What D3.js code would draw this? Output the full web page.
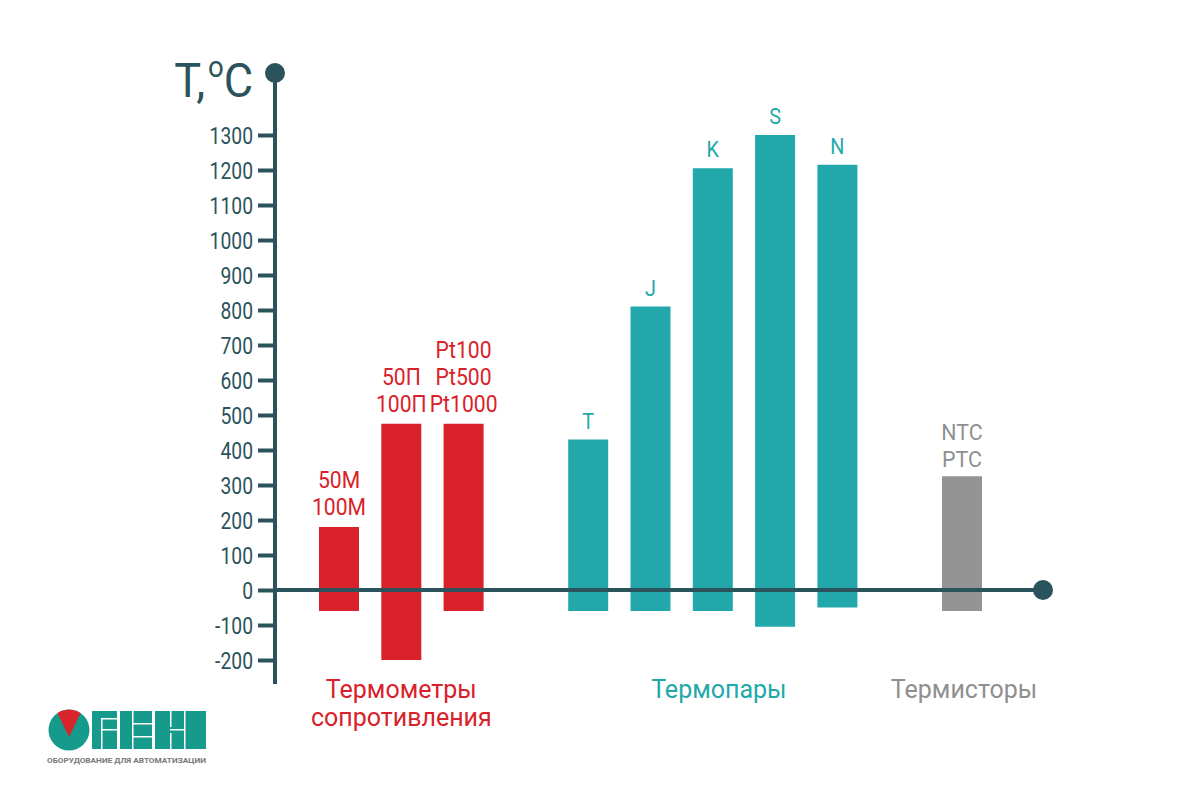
<!DOCTYPE html>
<html>
<head>
<meta charset="utf-8">
<script src="https://cdn.jsdelivr.net/npm/d3@7"></script>
<style>
  html, body { margin: 0; padding: 0; background: #ffffff; }
  svg { display: block; }
  text { font-family: Roboto, "Noto Sans", sans-serif; }
</style>
</head>
<body>
<svg id="chart" width="1200" height="801"></svg>
<script>
// ---------- data ----------
const slots = ["50M/100M", "50П/100П", "Pt100/Pt500/Pt1000", "gap1", "T", "J", "K", "S", "N", "gap2", "NTC/PTC"];
const sensors = ["50M/100M", "50П/100П", "Pt100/Pt500/Pt1000", "T", "J", "K", "S", "N", "NTC/PTC"];
const sensorLabels = [["50M", "100M"], ["50П", "100П"], ["Pt100", "Pt500", "Pt1000"], ["T"], ["J"], ["K"], ["S"], ["N"], ["NTC", "PTC"]];
const sensorGroups = ["rtd", "rtd", "rtd", "tc", "tc", "tc", "tc", "tc", "th"];
const maxTemp = [180, 475, 475, 430, 810, 1205, 1300, 1215, 325];
const minTemp = [-60, -200, -60, -60, -60, -60, -105, -50, -60];
const tickValues = [-200, -100, 0, 100, 200, 300, 400, 500, 600, 700, 800, 900, 1000, 1100, 1200, 1300];
const groupKeys = ["rtd", "tc", "th"];
const groupNames = [["Термометры", "сопротивления"], ["Термопары"], ["Термисторы"]];
const axisTitle = ["T,", "o", "C"];
const logoCaption = "ОБОРУДОВАНИЕ ДЛЯ АВТОМАТИЗАЦИИ";

// ---------- styles ----------
const colors = { rtd: "#d9212a", tc: "#22a8aa", th: "#949494" };
const labelColors = { rtd: "#d9212a", tc: "#22a8aa", th: "#8f8f8f" };
const axisColor = "#2b535b";

const svg = d3.select("#chart");

const y = d3.scaleLinear().domain([-200, 1300]).range([660, 135]);
const x = d3.scaleBand().domain(slots).range([319, 982]).paddingInner(0.358).paddingOuter(0);

function sText(parent, px, py, sx) {
  return parent.append("g")
    .attr("transform", `translate(${px},${py}) scale(${sx},1)`)
    .append("text");
}

// ---------- bars ----------
const barG = svg.append("g");
sensors.forEach((s, i) => {
  const top = y(maxTemp[i]);
  const bot = y(minTemp[i]);
  barG.append("rect")
    .attr("x", x(s))
    .attr("y", top)
    .attr("width", x.bandwidth())
    .attr("height", bot - top)
    .attr("fill", colors[sensorGroups[i]]);
  const lines = sensorLabels[i];
  const grp = sensorGroups[i];
  const lh = 27;
  const fs = grp === "tc" ? 22 : 23;
  const gap = grp === "tc" ? 11 : (grp === "rtd" ? 12 : 9);
  const sx = grp === "th" ? 0.93 : (grp === "rtd" ? 0.92 : 0.9);
  lines.forEach((ln, k) => {
    const baseline = top - gap - (lines.length - 1 - k) * lh;
    sText(svg, x(s) + x.bandwidth() / 2, baseline, sx)
      .attr("text-anchor", "middle")
      .attr("font-size", fs)
      .attr("font-weight", 400)
      .attr("fill", labelColors[grp])
      .text(ln);
  });
});

// ---------- y axis ----------
const axisG = svg.append("g").attr("transform", "translate(275,0)");
axisG.call(d3.axisLeft(y).tickValues(tickValues).tickSize(17).tickPadding(5).tickFormat(d => d));
axisG.select(".domain").remove();
axisG.selectAll(".tick line").attr("stroke", axisColor).attr("stroke-width", 4);
axisG.selectAll(".tick text").remove();
axisG.selectAll(".tick").each(function (d) {
  const g = d3.select(this);
  g.append("g").attr("transform", `translate(-22,0) scale(0.84,1)`)
    .append("text")
    .attr("text-anchor", "end")
    .attr("dy", "0.36em")
    .attr("font-size", 23)
    .attr("font-weight", 400)
    .attr("fill", axisColor)
    .text(d < 0 ? "-" + Math.abs(d) : d);
});

// axis lines
svg.append("line").attr("x1", 275).attr("x2", 275).attr("y1", 73).attr("y2", 684)
  .attr("stroke", axisColor).attr("stroke-width", 4);
svg.append("line").attr("x1", 275).attr("x2", 1043).attr("y1", y(0)).attr("y2", y(0))
  .attr("stroke", axisColor).attr("stroke-width", 4);
svg.append("circle").attr("cx", 275).attr("cy", 73).attr("r", 10).attr("fill", axisColor);
svg.append("circle").attr("cx", 1043).attr("cy", y(0)).attr("r", 10).attr("fill", axisColor);

// axis title T,°C
const tt = sText(svg, 253, 97, 0.92).attr("text-anchor", "end").attr("font-size", 49).attr("fill", axisColor);
tt.append("tspan").text(axisTitle[0]);
tt.append("tspan").attr("font-size", 30).attr("dx", 3).attr("dy", -20).text(axisTitle[1]);
tt.append("tspan").attr("dy", 20).text(axisTitle[2]);

// ---------- group labels ----------
groupKeys.forEach((gk, gi) => {
  const members = sensors.filter((s, i) => sensorGroups[i] === gk);
  const x0 = x(members[0]);
  const x1 = x(members[members.length - 1]) + x.bandwidth();
  let cx = (x0 + x1) / 2;
  if (gk === "tc") cx += 6;
  if (gk === "th") cx += 2;
  groupNames[gi].forEach((ln, k) => {
    sText(svg, cx, 698 + k * 28, 1.0)
      .attr("text-anchor", "middle")
      .attr("font-size", 25)
      .attr("font-weight", 400)
      .attr("fill", labelColors[gk])
      .text(ln);
  });
});

// ---------- logo ----------
const logo = svg.append("g");
const logoTeal = "#169a8b";
logo.append("clipPath").attr("id", "logoClip").append("circle").attr("cx", 69).attr("cy", 730).attr("r", 20.5);
logo.append("circle").attr("cx", 69).attr("cy", 730).attr("r", 20.5).attr("fill", logoTeal);
logo.append("polygon").attr("points", "55,708 83,708 69,737").attr("fill", "#d8262c").attr("clip-path", "url(#logoClip)");
// В
logo.append("rect").attr("x", 92).attr("y", 711).attr("width", 25).attr("height", 38).attr("fill", logoTeal);
logo.append("rect").attr("x", 101).attr("y", 718).attr("width", 16).attr("height", 1.5).attr("fill", "#fff");
logo.append("rect").attr("x", 101).attr("y", 729).attr("width", 16).attr("height", 1.5).attr("fill", "#fff");
logo.append("rect").attr("x", 101).attr("y", 718).attr("width", 1.5).attr("height", 31).attr("fill", "#fff");
// Е
logo.append("rect").attr("x", 120).attr("y", 711).attr("width", 32).attr("height", 38).attr("fill", logoTeal);
logo.append("rect").attr("x", 132).attr("y", 723).attr("width", 20).attr("height", 1.5).attr("fill", "#fff");
logo.append("rect").attr("x", 132).attr("y", 736).attr("width", 20).attr("height", 1.5).attr("fill", "#fff");
logo.append("rect").attr("x", 132).attr("y", 711).attr("width", 1.5).attr("height", 38).attr("fill", "#fff");
// Н
logo.append("rect").attr("x", 155).attr("y", 711).attr("width", 51).attr("height", 38).attr("fill", logoTeal);
logo.append("rect").attr("x", 170).attr("y", 711).attr("width", 1.5).attr("height", 16).attr("fill", "#fff");
logo.append("rect").attr("x", 170).attr("y", 733).attr("width", 1.5).attr("height", 16).attr("fill", "#fff");
logo.append("rect").attr("x", 184).attr("y", 711).attr("width", 1.5).attr("height", 38).attr("fill", "#fff");
logo.append("rect").attr("x", 170).attr("y", 729).attr("width", 14).attr("height", 1.5).attr("fill", "#fff");
logo.append("text").attr("x", 47).attr("y", 763).attr("font-size", 7.5).attr("font-weight", 700)
  .attr("fill", "#777").attr("textLength", 159).attr("lengthAdjust", "spacingAndGlyphs").text(logoCaption);
</script>
</body>
</html>
